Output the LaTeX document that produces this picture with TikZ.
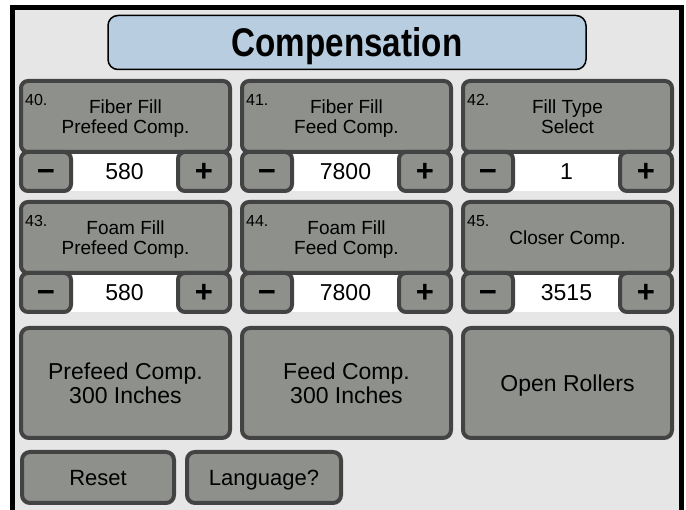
\documentclass[tikz,border=0pt]{standalone}
\usepackage{fontspec}
\setmainfont{Liberation Sans}
\newfontfamily\hdrfont[FakeStretch=0.83]{Liberation Sans}
\usetikzlibrary{positioning}
\definecolor{screen}{HTML}{E6E6E6}
\definecolor{knob}{HTML}{8E908C}
\definecolor{rim}{HTML}{434343}
\definecolor{sky}{HTML}{B8CDE0}

\begin{document}
\begin{tikzpicture}[x=1pt,y=-1pt,
	hdr/.style={draw=black,fill=sky,line width=1.5pt,rounded corners=10pt,minimum width=478pt,minimum height=54pt,text depth=0pt,font=\hdrfont\bfseries\fontsize{40}{40}\selectfont},
	panel/.style={draw=rim,fill=knob,line width=4pt,rounded corners=7pt,minimum width=209pt,minimum height=71pt,inner sep=0pt,text depth=0pt,align=center,font=\fontsize{19}{20}\selectfont},
	pm/.style={draw=rim,fill=knob,line width=4pt,rounded corners=7pt,minimum height=39pt,inner sep=0pt,text height=21pt,text depth=0pt,font=\bfseries\fontsize{31}{31}\selectfont},
	val/.style={fill=white,minimum width=111pt,minimum height=39pt,inner sep=0pt,font=\fontsize{23}{23}\selectfont},
	idx/.style={anchor=north west,inner sep=0pt,font=\fontsize{16}{16}\selectfont},
	big/.style={draw=rim,fill=knob,line width=4pt,rounded corners=8pt,minimum width=209pt,minimum height=110pt,inner sep=0pt,text depth=0pt,align=center,font=\fontsize{23}{24}\selectfont},
	small/.style={draw=rim,fill=knob,line width=4pt,rounded corners=8pt,minimum height=51pt,inner sep=0pt,text depth=0pt,font=\fontsize{22}{22}\selectfont}]
	\fill[white] (0,0) rectangle (686,510);
	\fill[black] (10,5) rectangle (684,510);
	\fill[screen] (15,10) rectangle (679,510);
	\useasboundingbox (0,0) rectangle (686,510);

	\node [hdr] at (347,42.5) (title) {Compensation};

	% row 1
	\node [val] at (124.5,171.5) (v40) {580};
	\node [panel] at (125.5,116.5) (p40) {Fiber Fill\\Prefeed Comp.};
	\node [pm,minimum width=50pt] at (46,171.5) (m40) {−};
	\node [pm,minimum width=52pt] at (204,171.5) (a40) {+};
	\node [idx,below right=15pt and 6pt of p40.north west] (n40) {40.};

	\node [val] at (345.5,171.5) (v41) {7800};
	\node [panel] at (346.5,116.5) (p41) {Fiber Fill\\Feed Comp.};
	\node [pm,minimum width=50pt] at (267,171.5) (m41) {−};
	\node [pm,minimum width=52pt] at (425,171.5) (a41) {+};
	\node [idx,below right=15pt and 6pt of p41.north west] (n41) {41.};

	\node [val] at (566.5,171.5) (v42) {1};
	\node [panel] at (567.5,116.5) (p42) {Fill Type\\Select};
	\node [pm,minimum width=50pt] at (488,171.5) (m42) {−};
	\node [pm,minimum width=52pt] at (646,171.5) (a42) {+};
	\node [idx,below right=15pt and 6pt of p42.north west] (n42) {42.};

	% row 2
	\node [val] at (124.5,292.5) (v43) {580};
	\node [panel] at (125.5,237.5) (p43) {Foam Fill\\Prefeed Comp.};
	\node [pm,minimum width=50pt] at (46,292.5) (m43) {−};
	\node [pm,minimum width=52pt] at (204,292.5) (a43) {+};
	\node [idx,below right=15pt and 6pt of p43.north west] (n43) {43.};

	\node [val] at (345.5,292.5) (v44) {7800};
	\node [panel] at (346.5,237.5) (p44) {Foam Fill\\Feed Comp.};
	\node [pm,minimum width=50pt] at (267,292.5) (m44) {−};
	\node [pm,minimum width=52pt] at (425,292.5) (a44) {+};
	\node [idx,below right=15pt and 6pt of p44.north west] (n44) {44.};

	\node [val] at (566.5,292.5) (v45) {3515};
	\node [panel] at (567.5,237.5) (p45) {Closer Comp.};
	\node [pm,minimum width=50pt] at (488,292.5) (m45) {−};
	\node [pm,minimum width=52pt] at (646,292.5) (a45) {+};
	\node [idx,below right=15pt and 6pt of p45.north west] (n45) {45.};

	% big buttons
	\node [big] at (125.5,383) (prefeed) {Prefeed Comp.\\300 Inches};
	\node [big] at (346.5,383) (feed) {Feed Comp.\\300 Inches};
	\node [big] at (567.5,383) (rollers) {Open Rollers};

	\node [small,minimum width=152pt] at (98,477.5) (reset) {Reset};
	\node [small,minimum width=154pt] at (264,477.5) (lang) {Language?};
\end{tikzpicture}
\end{document}
